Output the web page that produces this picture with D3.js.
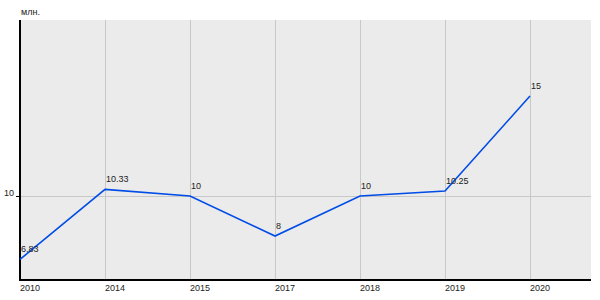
<!DOCTYPE html>
<meta charset="utf-8">
<style>
body { margin: 0; background: #fff; }
text { font-family: "Liberation Sans", Arial, sans-serif; font-size: 9px; fill: #222; }
.grid line { stroke: #c8c8c8; stroke-width: 1; shape-rendering: crispEdges; }
</style>
<body>
<script src="https://d3js.org/d3.v7.min.js"></script>
<script>

var years = ["2010", "2014", "2015", "2017", "2018", "2019", "2020"];
var values = [6.83, 10.33, 10, 8, 10, 10.25, 15];
var labels = ["6.83", "10.33", "10", "8", "10", "10.25", "15"];
var yTicks = [10];
var unit = "млн.";

var plotLeft = 20, plotRight = 591, plotTop = 20, plotBottom = 280;

var x = d3.scalePoint()
    .domain(years)
    .range([plotLeft, 530]);

var y = d3.scaleLinear()
    .domain([5.8, 18.8])
    .range([plotBottom, plotTop]);

var svg = d3.select("body").append("svg")
    .attr("width", 600)
    .attr("height", 300);

svg.append("rect")
    .attr("x", plotLeft).attr("y", plotTop)
    .attr("width", plotRight - plotLeft).attr("height", plotBottom - plotTop)
    .attr("fill", "#ebebeb");

var grid = svg.append("g").attr("class", "grid");

grid.selectAll(".vx")
    .data(years)
  .enter().append("line")
    .attr("x1", function(d) { return x(d) + 0.5; })
    .attr("x2", function(d) { return x(d) + 0.5; })
    .attr("y1", plotTop)
    .attr("y2", plotBottom);

grid.selectAll(".hy")
    .data(yTicks)
  .enter().append("line")
    .attr("x1", plotLeft)
    .attr("x2", plotRight)
    .attr("y1", function(d) { return Math.round(y(d)) + 0.5; })
    .attr("y2", function(d) { return Math.round(y(d)) + 0.5; });

// axes
svg.append("line")
    .attr("x1", plotLeft).attr("x2", plotLeft)
    .attr("y1", plotTop).attr("y2", plotBottom + 1)
    .attr("stroke", "#000").attr("stroke-width", 2);

svg.append("line")
    .attr("x1", plotLeft - 1).attr("x2", plotRight)
    .attr("y1", plotBottom).attr("y2", plotBottom)
    .attr("stroke", "#000").attr("stroke-width", 2);

svg.selectAll(".ytick")
    .data(yTicks)
  .enter().append("line")
    .attr("x1", plotLeft - 4).attr("x2", plotLeft)
    .attr("y1", function(d) { return Math.round(y(d)) + 0.5; })
    .attr("y2", function(d) { return Math.round(y(d)) + 0.5; })
    .attr("stroke", "#000");

svg.selectAll(".ylab")
    .data(yTicks)
  .enter().append("text")
    .attr("x", plotLeft - 6)
    .attr("y", function(d) { return Math.round(y(d)); })
    .style("text-anchor", "end")
    .text(function(d) { return d; });

svg.selectAll(".xlab")
    .data(years)
  .enter().append("text")
    .attr("x", function(d) { return x(d); })
    .attr("y", 291)
    .text(function(d) { return d; });

svg.append("text")
    .attr("x", 21)
    .attr("y", 15)
    .text(unit);

var line = d3.line()
    .x(function(d, i) { return x(years[i]); })
    .y(function(d) { return y(d); });

svg.append("path")
    .datum(values)
    .attr("fill", "none")
    .attr("stroke", "#004ce6")
    .attr("stroke-width", 1.6)
    .attr("d", line);

svg.selectAll(".vlab")
    .data(values)
  .enter().append("text")
    .attr("x", function(d, i) { return x(years[i]) + 1; })
    .attr("y", function(d) { return y(d) - 7; })
    .text(function(d, i) { return labels[i]; });

</script>
